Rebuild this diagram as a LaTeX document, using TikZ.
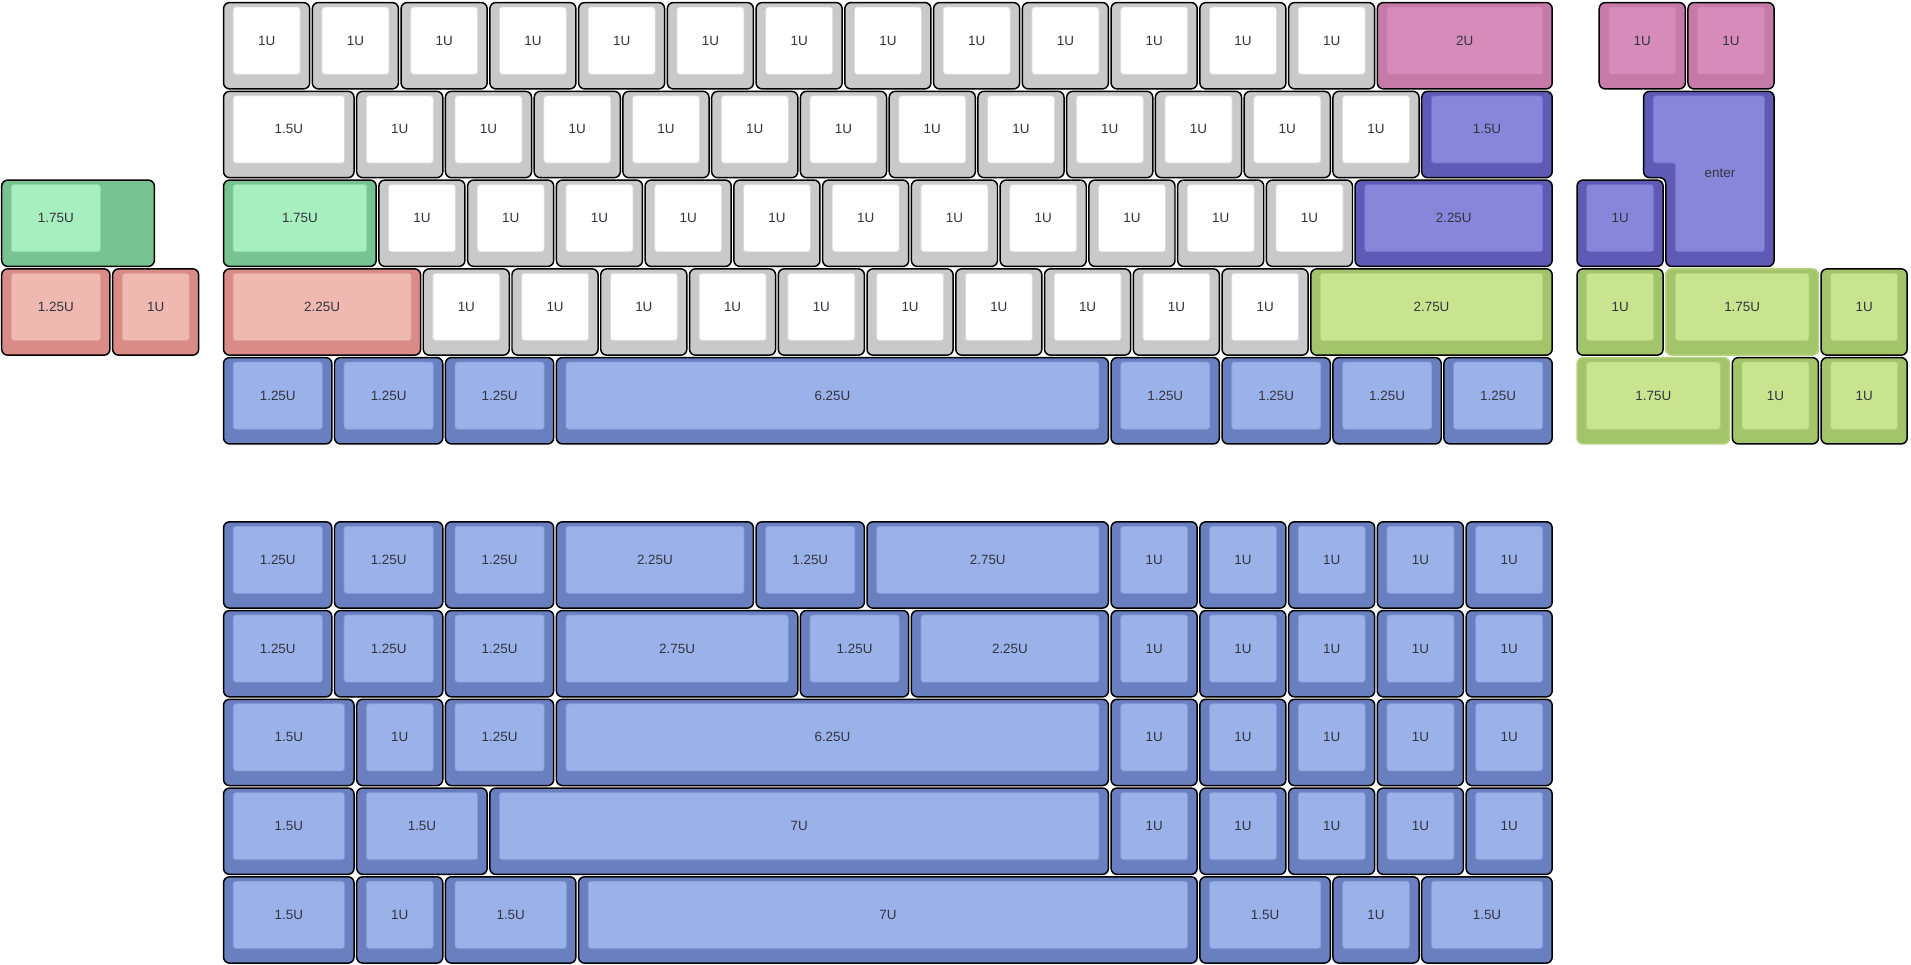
\documentclass[tikz,border=0pt]{standalone}
\usepackage{fontspec}
\setsansfont{Liberation Sans}

\definecolor{keyink}{HTML}{34343F}
\definecolor{whto}{HTML}{C9C9C9}\definecolor{whti}{HTML}{FFFFFF}\definecolor{whtl}{HTML}{DADADA}
\definecolor{pnko}{HTML}{C57AA8}\definecolor{pnki}{HTML}{D78BBA}\definecolor{pnkl}{HTML}{CB82AF}
\definecolor{puro}{HTML}{5E5AB5}\definecolor{puri}{HTML}{8886DB}\definecolor{purl}{HTML}{726EC9}
\definecolor{grno}{HTML}{77C392}\definecolor{grni}{HTML}{A8EFC0}\definecolor{grnl}{HTML}{8FD8A8}
\definecolor{salo}{HTML}{D98B88}\definecolor{sali}{HTML}{EFB8B0}\definecolor{sall}{HTML}{E2A09A}
\definecolor{limo}{HTML}{A3C46A}\definecolor{limi}{HTML}{C8E48F}\definecolor{liml}{HTML}{B4D37C}
\definecolor{bluo}{HTML}{6A7FBF}\definecolor{blui}{HTML}{9AB1EA}\definecolor{blul}{HTML}{8298D6}

% running position of the next key (top left corner of its cell)
\newcommand{\kx}{0}
\newcommand{\ky}{0}
\newcommand{\setrow}[2]{\xdef\kx{#1}\xdef\ky{#2}}
% \keycap[outer opts]{name}{width}{colour family}{label}
\newcommand{\keycap}[5][]{%
  \pgfmathsetmacro{\kr}{\kx+#3}%
  \draw[keyouter, fill=#4o, #1] (\kx+0.012,\ky-0.012) rectangle (\kr-0.018,\ky-0.985);
  \draw[keyinner, fill=#4i, draw=#4l] (\kx+0.12,\ky-0.062) rectangle (\kr-0.125,\ky-0.82);
  \node[keylabel] (#2) at ({(\kx+\kr)/2-0.0025},\ky-0.441) {#5};
  \xdef\kx{\kr}}

\begin{document}
\begin{tikzpicture}
        [x=19.05mm, y=19.05mm,
         keyouter/.style={draw=black, line width=0.9pt, rounded corners=1.3mm},
         keyinner/.style={line width=0.5pt, rounded corners=0.6mm},
         keylabel/.style={font=\sffamily\fontsize{8.2}{9}\selectfont, text=keyink, inner sep=0pt}]

        \useasboundingbox (-2.507,0.017) rectangle (19.025,-10.856);

        % upper board
        \setrow{0}{0}
        \foreach \i in {1,...,13} {\keycap{a\i}{1}{wht}{1U}}
        \keycap{a14}{2}{pnk}{2U}
        \setrow{15.5}{0}
        \keycap{a15}{1}{pnk}{1U}
        \keycap{a16}{1}{pnk}{1U}

        \setrow{0}{-1}
        \keycap{b1}{1.5}{wht}{1.5U}
        \foreach \i in {2,...,13} {\keycap{b\i}{1}{wht}{1U}}
        \keycap{b14}{1.5}{pur}{1.5U}

        \setrow{0}{-2}
        \keycap{c1}{1.75}{grn}{1.75U}
        \foreach \i in {2,...,12} {\keycap{c\i}{1}{wht}{1U}}
        \keycap{c13}{2.25}{pur}{2.25U}
        \setrow{15.25}{-2}
        \keycap{c14}{1}{pur}{1U}

        \setrow{0}{-3}
        \keycap{d1}{2.25}{sal}{2.25U}
        \foreach \i in {2,...,11} {\keycap{d\i}{1}{wht}{1U}}
        \keycap{d12}{2.75}{lim}{2.75U}
        \setrow{-2.5}{-3}
        \keycap{d13}{1.25}{sal}{1.25U}
        \keycap{d14}{1}{sal}{1U}
        \setrow{15.25}{-3}
        \keycap{d15}{1}{lim}{1U}
        \keycap[draw=liml]{d16}{1.75}{lim}{1.75U}
        \keycap{d17}{1}{lim}{1U}

        \setrow{0}{-4}
        \foreach \w [count=\i] in {1.25,1.25,1.25,6.25,1.25,1.25,1.25,1.25} {\keycap{e\i}{\w}{blu}{\w U}}
        \setrow{15.25}{-4}
        \keycap[draw=liml]{e9}{1.75}{lim}{1.75U}
        \keycap{e10}{1}{lim}{1U}
        \keycap{e11}{1}{lim}{1U}

        % stepped caps lock
        \draw[keyouter, fill=grno] (-2.488,-2.012) rectangle (-0.768,-2.985);
        \draw[keyinner, fill=grni, draw=grnl] (-2.38,-2.062) rectangle (-1.375,-2.82);
        \node[keylabel] (caps) at (-1.8775,-2.441) {1.75U};

        % iso enter
        \draw[keyouter, fill=puro] (16.012,-1.012) -- (17.482,-1.012) -- (17.482,-2.985)
          -- (16.262,-2.985) -- (16.262,-1.985) -- (16.012,-1.985) -- cycle;
        \draw[keyinner, fill=puri, draw=purl] (16.12,-1.062) -- (17.375,-1.062) -- (17.375,-2.82)
          -- (16.37,-2.82) -- (16.37,-1.82) -- (16.12,-1.82) -- cycle;
        \node[keylabel] (enter) at (16.8725,-1.94) {enter};

        % lower board
        \setrow{0}{-5.85}
        \foreach \w [count=\i] in {1.25,1.25,1.25,2.25,1.25,2.75,1,1,1,1,1} {\keycap{f\i}{\w}{blu}{\w U}}
        \setrow{0}{-6.85}
        \foreach \w [count=\i] in {1.25,1.25,1.25,2.75,1.25,2.25,1,1,1,1,1} {\keycap{g\i}{\w}{blu}{\w U}}
        \setrow{0}{-7.85}
        \foreach \w [count=\i] in {1.5,1,1.25,6.25,1,1,1,1,1} {\keycap{h\i}{\w}{blu}{\w U}}
        \setrow{0}{-8.85}
        \foreach \w [count=\i] in {1.5,1.5,7,1,1,1,1,1} {\keycap{j\i}{\w}{blu}{\w U}}
        \setrow{0}{-9.85}
        \foreach \w [count=\i] in {1.5,1,1.5,7,1.5,1,1.5} {\keycap{k\i}{\w}{blu}{\w U}}

      \end{tikzpicture}
\end{document}
